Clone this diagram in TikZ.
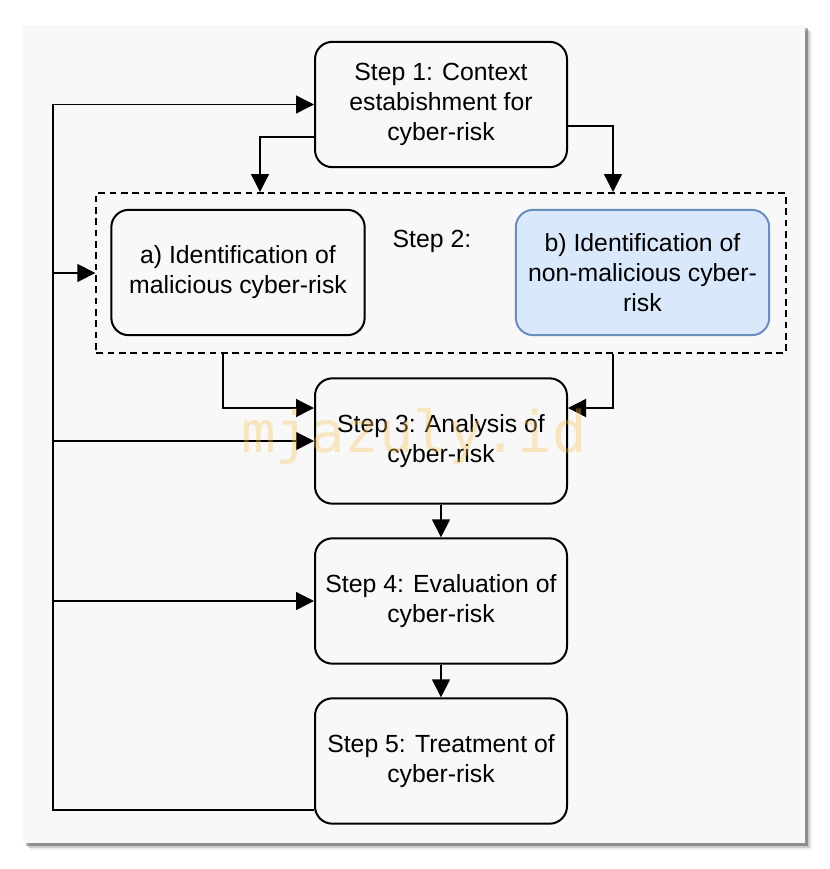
\documentclass[tikz,border=0pt]{standalone}
\usepackage{fontspec}
\setmainfont{Liberation Sans}
\newfontfamily\markfont{DejaVu Sans Mono}
\usetikzlibrary{arrows.meta,calc,positioning}

\definecolor{panelgray}{HTML}{F8F8F8}
\definecolor{blueface}{HTML}{DAE8FC}
\definecolor{blueline}{HTML}{6C8EBF}
\definecolor{markorange}{HTML}{F7C257}

\tikzset{
	stepbox/.style={draw, line width=1.5pt, rounded corners=13pt, minimum width=189pt, minimum height=94pt, align=center, font=\fontsize{18.6}{22.5}\selectfont},
	groupbox/.style={draw, line width=1.5pt, dash pattern=on 5pt off 3.5pt, minimum width=517pt, minimum height=120pt},
	flow/.style={line width=1pt, -{Triangle[length=13.5pt,width=13.5pt]}},
}

\begin{document}
\begin{tikzpicture}[x=0.75pt,y=-0.75pt]
			\useasboundingbox (0,0) rectangle (830,869);
			% panel with its shadow
			\foreach \d/\o in {7/0.06, 5/0.15, 3/0.3}
			\fill[black, opacity=\o] (23+\d,25+\d) rectangle (805+\d,843+\d);
			\fill[panelgray] (23,25) rectangle (805,843);

			\node[groupbox] (grp) at (441,273) {};
			\node[stepbox] (s1) at (441,104.5) {Step 1: Context\\estabishment for\\cyber-risk};
			\node[stepbox, minimum width=190pt] (s2a) at (238,272.5) {a) Identification of\\malicious cyber-risk};
			\node[stepbox, minimum width=190pt, draw=blueline, fill=blueface] (s2b) at (642.5,272.5) {b) Identification of\\non-malicious cyber-\\risk};
			\node[font=\fontsize{18.6}{22.5}\selectfont] (s2lbl) at (432,241) {Step 2:};
			\node[stepbox] (s3) at (441,441) {Step 3: Analysis of\\cyber-risk};
			\node[stepbox] (s4) at (441,601) {Step 4: Evaluation of\\cyber-risk};
			\node[stepbox] (s5) at (441,761) {Step 5: Treatment of\\cyber-risk};

			\coordinate (busT) at (53,104.5);

			% step 1 into step 2
			\draw[flow] (s1.west |- 0,137) -| (grp.north -| 260,0);
			\draw[flow] (s1.east |- 0,126) -| (grp.north -| 613,0);
			% step 2 into step 3
			\draw[flow] (grp.south -| 223,0) |- (s3.west |- 0,408);
			\draw[flow] (grp.south -| 613,0) |- (s3.east |- 0,408);
			\draw[flow] (s3) -- (s4);
			\draw[flow] (s4) -- (s5);
			% feedback line
			\draw[flow] (s5.west |- 0,810) -| (busT) -- (s1.west);
			\foreach \n in {grp, s3, s4}
			\draw[flow] (busT |- \n.west) -- (\n.west);

			\node[font=\markfont\fontsize{43}{43}\selectfont, text=markorange, opacity=0.35] (mark) at (414,437) {mjazuly.id};
\end{tikzpicture}
\end{document}
